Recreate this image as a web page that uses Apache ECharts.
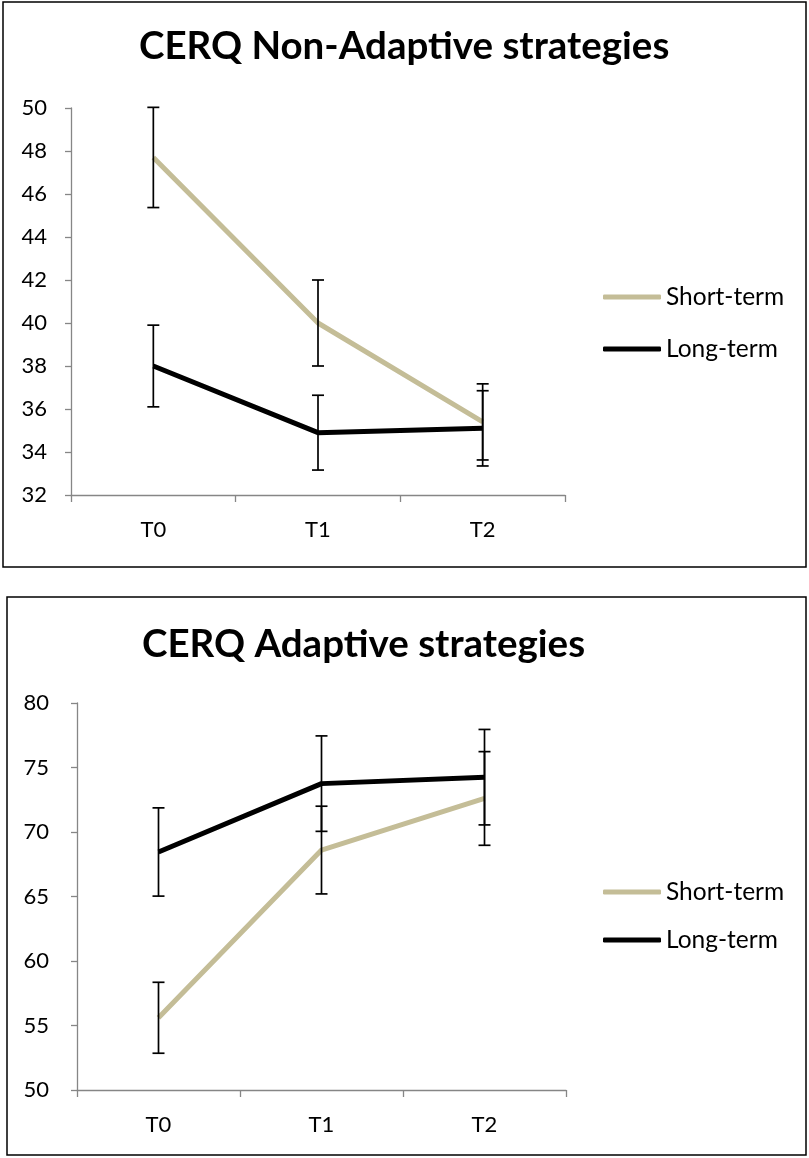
<!DOCTYPE html>
<html>
<head>
<meta charset="utf-8">
<script src="https://cdn.jsdelivr.net/npm/echarts@6/dist/echarts.min.js"></script>
<style>
html,body{margin:0;padding:0;background:#fff;}
#c{width:809px;height:1158px;}
</style>
</head>
<body>
<div id="c"></div>
<script>
// ---- data ----
const categories = ['T0', 'T1', 'T2'];
const seriesNames = ['Short-term', 'Long-term'];

const nonAdaptiveShort = [47.7, 40.0, 35.4];
const nonAdaptiveShortErr = [2.33, 2.0, 1.77];
const nonAdaptiveLong = [38.0, 34.9, 35.1];
const nonAdaptiveLongErr = [1.9, 1.74, 1.75];

const adaptiveShort = [55.6, 68.6, 72.6];
const adaptiveShortErr = [2.75, 3.4, 3.63];
const adaptiveLong = [68.45, 73.75, 74.25];
const adaptiveLongErr = [3.42, 3.7, 3.7];

const titles = ['CERQ Non-Adaptive strategies', 'CERQ Adaptive strategies'];

// ---- styles ----
const TAN = '#C4BD97';
const BLACK = '#000000';
const AXIS = '#868686';
const FONT = 'Lato';

function errData(mean, err) {
  return mean.map((m, i) => [i, m, err[i]]);
}

function errorRender(params, api) {
  const x = api.value(0), m = api.value(1), e = api.value(2);
  const top = api.coord([x, m + e]);
  const bot = api.coord([x, m - e]);
  const hw = 6;
  const st = { stroke: '#000', lineWidth: 1.7 };
  return {
    type: 'group',
    children: [
      { type: 'line', shape: { x1: top[0], y1: top[1], x2: bot[0], y2: bot[1] }, style: st },
      { type: 'line', shape: { x1: top[0] - hw, y1: top[1], x2: top[0] + hw, y2: top[1] }, style: st },
      { type: 'line', shape: { x1: bot[0] - hw, y1: bot[1], x2: bot[0] + hw, y2: bot[1] }, style: st }
    ]
  };
}

function xAxis(gi) {
  return {
    type: 'category', gridIndex: gi, data: categories, boundaryGap: true,
    axisLine: { lineStyle: { color: AXIS, width: 1.3 } },
    axisTick: { show: true, length: 7, lineStyle: { color: AXIS, width: 1.3 } },
    axisLabel: { color: '#000', fontFamily: FONT, fontSize: 22, margin: 24 },
    splitLine: { show: false }
  };
}
function yAxis(gi, min, max, interval, margin) {
  return {
    type: 'value', gridIndex: gi, min: min, max: max, interval: interval,
    axisLine: { show: true, lineStyle: { color: AXIS, width: 1.3 } },
    axisTick: { show: true, length: 6, lineStyle: { color: AXIS, width: 1.3 } },
    axisLabel: { color: '#000', fontFamily: FONT, fontSize: 22, margin: margin },
    splitLine: { show: false }
  };
}
function lineSeries(name, data, color, gi) {
  return {
    type: 'line', name: name, data: data, xAxisIndex: gi, yAxisIndex: gi,
    symbol: 'none', lineStyle: { color: color, width: 5 }, itemStyle: { color: color },
    z: 2, animation: false
  };
}
function errSeries(name, mean, err, gi) {
  return {
    type: 'custom', name: name, xAxisIndex: gi, yAxisIndex: gi,
    data: errData(mean, err), encode: { x: 0, y: 1 },
    renderItem: errorRender, z: 3, silent: true, animation: false
  };
}
function legend(top, gap) {
  return {
    orient: 'vertical', left: 598, top: top, itemGap: gap,
    data: seriesNames.map(n => ({ name: n, icon: 'roundRect' })),
    itemWidth: 58, itemHeight: 5,
    textStyle: { color: '#000', fontFamily: FONT, fontSize: 24.5, lineHeight: 28 }
  };
}

const chart = echarts.init(document.getElementById('c'), null, { renderer: 'canvas' });
chart.setOption({
  animation: false,
  backgroundColor: '#fff',
  graphic: [
    { type: 'rect', shape: { x: 3, y: 2, width: 803, height: 565 }, style: { fill: 'none', stroke: '#000', lineWidth: 1.5 }, z: -1 },
    { type: 'rect', shape: { x: 7, y: 597, width: 799, height: 558 }, style: { fill: 'none', stroke: '#000', lineWidth: 1.5 }, z: -1 }
  ],
  title: [
    { text: titles[0], left: 134, top: 22, textStyle: { fontFamily: FONT, fontWeight: 'bold', fontSize: 38.5, color: '#000' } },
    { text: titles[1], left: 137, top: 620, textStyle: { fontFamily: FONT, fontWeight: 'bold', fontSize: 38.5, color: '#000' } }
  ],
  legend: [legend(278, 24), legend(873, 20)],
  grid: [
    { left: 71, top: 108, width: 494, height: 387, containLabel: false },
    { left: 77, top: 703, width: 489, height: 387, containLabel: false }
  ],
  xAxis: [xAxis(0), xAxis(1)],
  yAxis: [yAxis(0, 32, 50, 2, 24), yAxis(1, 50, 80, 5, 28)],
  series: [
    lineSeries(seriesNames[1], nonAdaptiveLong, BLACK, 0),
    lineSeries(seriesNames[0], nonAdaptiveShort, TAN, 0),
    errSeries('errNS', nonAdaptiveShort, nonAdaptiveShortErr, 0),
    errSeries('errNL', nonAdaptiveLong, nonAdaptiveLongErr, 0),
    lineSeries(seriesNames[1], adaptiveLong, BLACK, 1),
    lineSeries(seriesNames[0], adaptiveShort, TAN, 1),
    errSeries('errAS', adaptiveShort, adaptiveShortErr, 1),
    errSeries('errAL', adaptiveLong, adaptiveLongErr, 1)
  ]
});
</script>
</body>
</html>
